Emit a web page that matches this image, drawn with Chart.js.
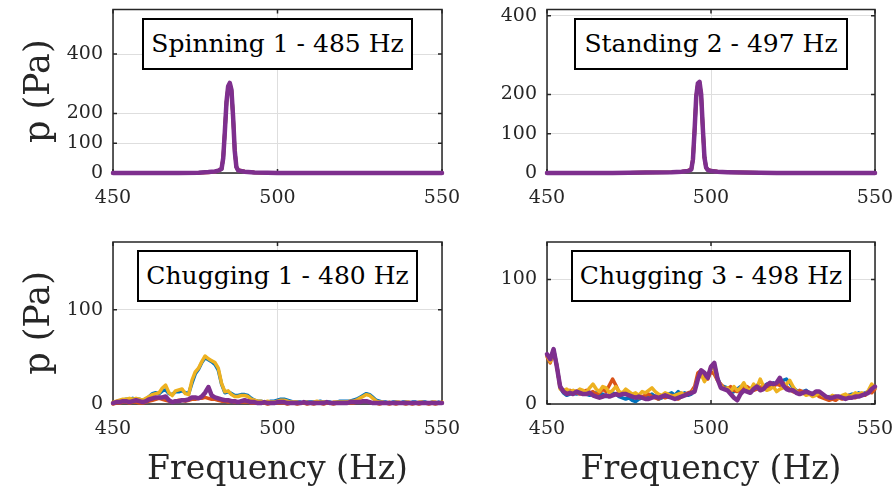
<!DOCTYPE html>
<html>
<head>
<meta charset="utf-8">
<script src="https://cdn.jsdelivr.net/npm/chart.js@4.4.1/dist/chart.umd.min.js"></script>
<style>
  body { margin: 0; background: #fff; }
  #wrap { position: relative; width: 893px; height: 494px; overflow: hidden; background: #fff; }
  canvas { position: absolute; }
  .tag {
    position: absolute; box-sizing: border-box; height: 52px;
    border: 2px solid #000; background: #fff;
    font-family: 'DejaVu Serif', serif; font-size: 25px; color: #000;
    text-align: center; line-height: 48px; white-space: nowrap;
  }
</style>
</head>
<body>
<div id="wrap">
  <canvas id="c1" width="470" height="225" style="left:0;top:0"></canvas>
  <canvas id="c2" width="447" height="225" style="left:446px;top:0"></canvas>
  <canvas id="c3" width="470" height="269" style="left:0;top:225px"></canvas>
  <canvas id="c4" width="447" height="269" style="left:446px;top:225px"></canvas>
  <div class="tag" style="left:142px;top:18px;width:271px">Spinning 1 - 485 Hz</div>
  <div class="tag" style="left:574px;top:18px;width:274px">Standing 2 - 497 Hz</div>
  <div class="tag" style="left:137px;top:250px;width:281px">Chugging 1 - 480 Hz</div>
  <div class="tag" style="left:571px;top:250px;width:280px">Chugging 3 - 498 Hz</div>
</div>
<script>
// frequency axis (Hz)
const xTicks = [450, 500, 550];

// Spinning 1 - 485 Hz
const spinFreq = [450, 460, 470, 476, 479, 481, 482, 483, 483.5, 484, 484.5, 485, 485.5, 486, 486.5, 487, 487.5, 488, 490, 493, 497, 500, 510, 520, 530, 540, 550];
const spinBlue   = [0, 0, 0, 1, 3, 5, 7, 13, 48, 138, 236, 288, 300, 279, 192, 78, 22, 9, 4, 2, 1, 0, 0, 0, 0, 0, 0];
const spinOrange = [0, 0, 0, 1, 2, 4, 7, 14, 52, 142, 238, 287, 298, 276, 188, 74, 20, 10, 5, 2, 1, 1, 0, 0, 0, 0, 0];
const spinYellow = [0, 0, 0, 1, 3, 5, 8, 14, 49, 139, 239, 290, 301, 278, 191, 76, 21, 9, 4, 2, 1, 0, 0, 0, 0, 0, 0];
const spinPurple = [0, 0, 0, 1, 3, 5, 8, 14, 50, 140, 240, 292, 303, 280, 190, 75, 20, 9, 4, 2, 1, 0, 0, 0, 0, 0, 0];
const spinYTicks = [0, 100, 200, 400];

// Standing 2 - 497 Hz
const standFreq = [450, 470, 480, 488, 491, 493, 494, 494.5, 495, 495.5, 496, 496.5, 497, 497.5, 498, 498.5, 499, 500, 502, 505, 510, 520, 530, 540, 550];
const standBlue   = [0, 0, 1, 2, 3, 5, 9, 33, 106, 192, 226, 230, 198, 118, 42, 15, 8, 5, 3, 2, 1, 0, 0, 0, 0];
const standOrange = [0, 0, 1, 2, 3, 6, 10, 36, 112, 196, 227, 229, 196, 112, 38, 13, 9, 6, 4, 2, 1, 0, 0, 0, 0];
const standYellow = [0, 0, 1, 2, 3, 5, 9, 34, 108, 194, 227, 231, 199, 116, 41, 14, 8, 5, 3, 2, 1, 0, 0, 0, 0];
const standPurple = [0, 0, 1, 2, 3, 5, 9, 35, 110, 195, 228, 232, 200, 115, 40, 14, 8, 5, 3, 2, 1, 0, 0, 0, 0];
const standYTicks = [0, 100, 200, 400];

// chugging panels, 1 Hz bins
const chugFreq = [
  450, 451, 452, 453, 454, 455, 456, 457, 458, 459,
  460, 461, 462, 463, 464, 465, 466, 467, 468, 469,
  470, 471, 472, 473, 474, 475, 476, 477, 478, 479,
  480, 481, 482, 483, 484, 485, 486, 487, 488, 489,
  490, 491, 492, 493, 494, 495, 496, 497, 498, 499,
  500, 501, 502, 503, 504, 505, 506, 507, 508, 509,
  510, 511, 512, 513, 514, 515, 516, 517, 518, 519,
  520, 521, 522, 523, 524, 525, 526, 527, 528, 529,
  530, 531, 532, 533, 534, 535, 536, 537, 538, 539,
  540, 541, 542, 543, 544, 545, 546, 547, 548, 549,
  550];

// Chugging 1 - 480 Hz
const chug1Blue = [
  1, 2, 3, 4, 5, 5, 6, 5, 5, 4,
  5, 8, 11, 12, 11, 14, 15, 11, 10, 13,
  13, 14, 12, 11, 22, 32, 37, 44, 49, 47,
  45, 42, 36, 21, 12, 13, 11, 9, 9, 10,
  10, 9, 6, 4, 3, 3, 2, 2, 3, 3,
  4, 5, 5, 4, 3, 2, 2, 2, 1, 2,
  2, 2, 2, 3, 2, 2, 2, 1, 2, 3,
  3, 3, 3, 4, 5, 7, 9, 11, 10, 7,
  4, 3, 2, 2, 1, 2, 2, 1, 2, 2,
  1, 2, 2, 1, 2, 2, 1, 2, 1, 2,
  1];
const chug1Orange = [
  0, 1, 1, 2, 2, 1, 2, 2, 1, 1,
  2, 3, 4, 5, 6, 5, 4, 3, 2, 3,
  4, 4, 3, 4, 5, 5, 6, 6, 7, 6,
  5, 5, 4, 3, 3, 2, 3, 2, 2, 2,
  2, 2, 1, 1, 1, 1, 1, 0, 1, 1,
  1, 1, 1, 0, 1, 1, 0, 1, 1, 0,
  1, 0, 1, 1, 0, 1, 1, 0, 1, 1,
  1, 1, 1, 1, 2, 2, 3, 3, 2, 1,
  1, 0, 1, 1, 0, 1, 0, 1, 1, 0,
  1, 0, 1, 0, 1, 1, 0, 1, 0, 1,
  1];
const chug1Yellow = [
  2, 3, 4, 5, 5, 6, 5, 6, 5, 4,
  6, 8, 10, 11, 12, 17, 20, 12, 9, 14,
  15, 16, 11, 10, 25, 34, 38, 45, 51, 48,
  46, 44, 38, 22, 13, 14, 10, 8, 8, 9,
  9, 8, 5, 4, 3, 3, 2, 3, 2, 2,
  3, 4, 4, 3, 2, 2, 2, 1, 2, 2,
  1, 2, 3, 2, 2, 2, 1, 2, 2, 2,
  2, 2, 3, 3, 4, 6, 8, 10, 9, 6,
  3, 2, 2, 1, 2, 1, 2, 2, 1, 2,
  2, 1, 1, 2, 2, 1, 1, 2, 2, 1,
  2];
const chug1Purple = [
  1, 2, 2, 3, 3, 2, 3, 4, 3, 2,
  3, 5, 6, 7, 7, 7, 8, 4, 2, 3,
  3, 4, 4, 5, 7, 7, 6, 8, 12, 18,
  9, 7, 6, 5, 4, 4, 3, 3, 2, 3,
  4, 3, 2, 2, 1, 1, 2, 1, 1, 1,
  2, 2, 2, 1, 1, 1, 1, 1, 2, 1,
  1, 1, 1, 1, 1, 2, 1, 1, 1, 1,
  1, 1, 2, 2, 2, 2, 3, 3, 2, 1,
  1, 1, 1, 1, 1, 1, 1, 1, 1, 1,
  1, 1, 1, 1, 1, 1, 1, 1, 1, 1,
  1];
const chug1YTicks = [0, 100];

// Chugging 3 - 498 Hz
const chug3Blue = [
  39, 35, 44, 31, 13, 9, 7, 8, 9, 8,
  9, 10, 8, 7, 8, 9, 7, 8, 6, 7,
  9, 8, 6, 5, 4, 5, 3, 2, 4, 5,
  6, 7, 8, 6, 4, 5, 7, 8, 9, 7,
  10, 8, 9, 7, 8, 11, 21, 26, 24, 22,
  29, 32, 21, 14, 14, 13, 9, 10, 12, 14,
  13, 11, 12, 14, 15, 13, 14, 16, 15, 17,
  16, 18, 19, 20, 17, 13, 11, 9, 10, 11,
  9, 8, 7, 8, 6, 5, 6, 5, 4, 6,
  5, 6, 7, 8, 7, 9, 8, 9, 10, 11,
  13];
const chug3Orange = [
  38, 33, 42, 30, 14, 10, 9, 11, 10, 9,
  8, 10, 11, 9, 10, 8, 9, 12, 10, 15,
  20, 15, 9, 8, 10, 9, 8, 7, 5, 6,
  7, 8, 6, 5, 4, 6, 5, 6, 7, 5,
  4, 6, 8, 9, 10, 14, 25, 27, 22, 20,
  26, 24, 19, 16, 13, 12, 14, 11, 10, 12,
  13, 14, 12, 11, 12, 13, 15, 14, 13, 14,
  16, 15, 17, 14, 12, 10, 9, 11, 10, 8,
  9, 7, 8, 6, 5, 4, 3, 4, 3, 5,
  4, 6, 7, 6, 5, 7, 8, 7, 10, 9,
  12];
const chug3Yellow = [
  39, 34, 43, 31, 12, 11, 12, 10, 11, 10,
  12, 11, 9, 13, 16, 12, 10, 14, 13, 9,
  11, 14, 10, 9, 12, 10, 8, 9, 7, 10,
  9, 11, 13, 10, 8, 7, 9, 8, 6, 7,
  8, 9, 7, 8, 9, 12, 20, 24, 18, 22,
  30, 28, 19, 15, 12, 13, 10, 14, 11, 13,
  17, 12, 11, 16, 13, 20, 14, 11, 12, 14,
  10, 12, 13, 16, 19, 14, 10, 8, 9, 7,
  8, 6, 7, 9, 7, 6, 5, 7, 6, 5,
  7, 8, 6, 7, 9, 8, 9, 8, 11, 16,
  13];
const chug3Purple = [
  40, 36, 44, 30, 14, 10, 8, 9, 8, 10,
  9, 8, 8, 9, 7, 6, 5, 6, 7, 6,
  7, 8, 7, 8, 8, 7, 6, 5, 6, 5,
  4, 4, 5, 6, 5, 6, 7, 6, 5, 4,
  5, 6, 7, 8, 9, 10, 20, 27, 25, 21,
  30, 33, 20, 13, 12, 11, 8, 5, 3, 8,
  11, 10, 9, 12, 14, 11, 12, 15, 17, 16,
  17, 21, 15, 12, 11, 11, 9, 8, 9, 10,
  9, 8, 10, 10, 8, 6, 5, 5, 6, 6,
  5, 4, 5, 5, 6, 6, 7, 8, 9, 12,
  14];
const chug3YTicks = [0, 100];

const BLUE = '#0072BD', ORANGE = '#D95319', YELLOW = '#EDB120', PURPLE = '#7E2F8E';
const INK = '#262626';
const SERIF = "'DejaVu Serif', serif";

// axes box with inward tick marks, drawn under the lines
const boxPlugin = {
  id: 'boxPlugin',
  beforeDatasetsDraw(chart) {
    const { ctx, chartArea: a, scales: { x, y } } = chart;
    ctx.save();
    ctx.strokeStyle = INK;
    ctx.lineWidth = 1.5;
    ctx.beginPath();
    x.ticks.forEach(t => {
      const p = x.getPixelForValue(t.value);
      ctx.moveTo(p, a.bottom); ctx.lineTo(p, a.bottom - 4);
      ctx.moveTo(p, a.top); ctx.lineTo(p, a.top + 4);
    });
    y.ticks.forEach(t => {
      const p = y.getPixelForValue(t.value);
      ctx.moveTo(a.left, p); ctx.lineTo(a.left + 4, p);
      ctx.moveTo(a.right, p); ctx.lineTo(a.right - 4, p);
    });
    ctx.stroke();
    ctx.strokeRect(a.left, a.top, a.right - a.left, a.bottom - a.top);
    ctx.restore();
  }
};

function series(xs, ys, color, width, order) {
  return {
    data: xs.map((f, i) => ({ x: f, y: ys[i] })),
    borderColor: color, borderWidth: width, order: order,
    pointRadius: 0, tension: 0, fill: false,
    borderJoinStyle: 'round', borderCapStyle: 'round', clip: 6
  };
}

function panel(id, xs, lines, yMax, yTicks, pad, yWidth, xHeight, showY, showX) {
  new Chart(document.getElementById(id), {
    type: 'line',
    data: {
      datasets: [
        series(xs, lines[0], BLUE, 3.5, 4),
        series(xs, lines[1], ORANGE, 3.5, 3),
        series(xs, lines[2], YELLOW, 3.5, 2),
        series(xs, lines[3], PURPLE, 4.5, 1)
      ]
    },
    options: {
      responsive: false, animation: false, devicePixelRatio: 1,
      layout: { padding: pad },
      plugins: { legend: { display: false }, tooltip: { enabled: false } },
      scales: {
        x: {
          type: 'linear', min: 450, max: 550,
          afterBuildTicks: s => { s.ticks = xTicks.map(v => ({ value: v })); },
          afterFit: s => { s.height = xHeight; s.paddingLeft = 0; s.paddingRight = 0; },
          grid: { color: '#dedede', lineWidth: 1, drawTicks: false },
          border: { display: false },
          ticks: { color: INK, font: { family: SERIF, size: 19 }, padding: 14, maxRotation: 0 },
          title: { display: showX, text: 'Frequency (Hz)', color: INK,
                   font: { family: SERIF, size: 33 }, padding: { top: 0, bottom: 4 } }
        },
        y: {
          min: 0, max: yMax,
          afterBuildTicks: s => { s.ticks = yTicks.map(v => ({ value: v })); },
          afterFit: s => { s.width = yWidth; s.paddingTop = 0; s.paddingBottom = 0; },
          grid: { color: '#dedede', lineWidth: 1, drawTicks: false },
          border: { display: false },
          ticks: { color: INK, font: { family: SERIF, size: 19 }, padding: 10 },
          title: { display: showY, text: 'p (Pa)', color: INK,
                   font: { family: SERIF, size: 35 }, padding: { top: 19, bottom: 0 } }
        }
      }
    },
    plugins: [boxPlugin]
  });
}

panel('c1', spinFreq, [spinBlue, spinOrange, spinYellow, spinPurple], 550, spinYTicks,
      { left: 0, top: 9.5, right: 28, bottom: 0 }, 113, 52, true, false);
panel('c2', standFreq, [standBlue, standOrange, standYellow, standPurple], 416, standYTicks,
      { left: 0, top: 9.5, right: 18, bottom: 0 }, 101, 52, false, false);
panel('c3', chugFreq, [chug1Blue, chug1Orange, chug1Yellow, chug1Purple], 172, chug1YTicks,
      { left: 0, top: 17, right: 28, bottom: 0 }, 113, 90, true, true);
panel('c4', chugFreq, [chug3Blue, chug3Orange, chug3Yellow, chug3Purple], 130, chug3YTicks,
      { left: 0, top: 17, right: 18, bottom: 0 }, 101, 90, false, true);
</script>
</body>
</html>
